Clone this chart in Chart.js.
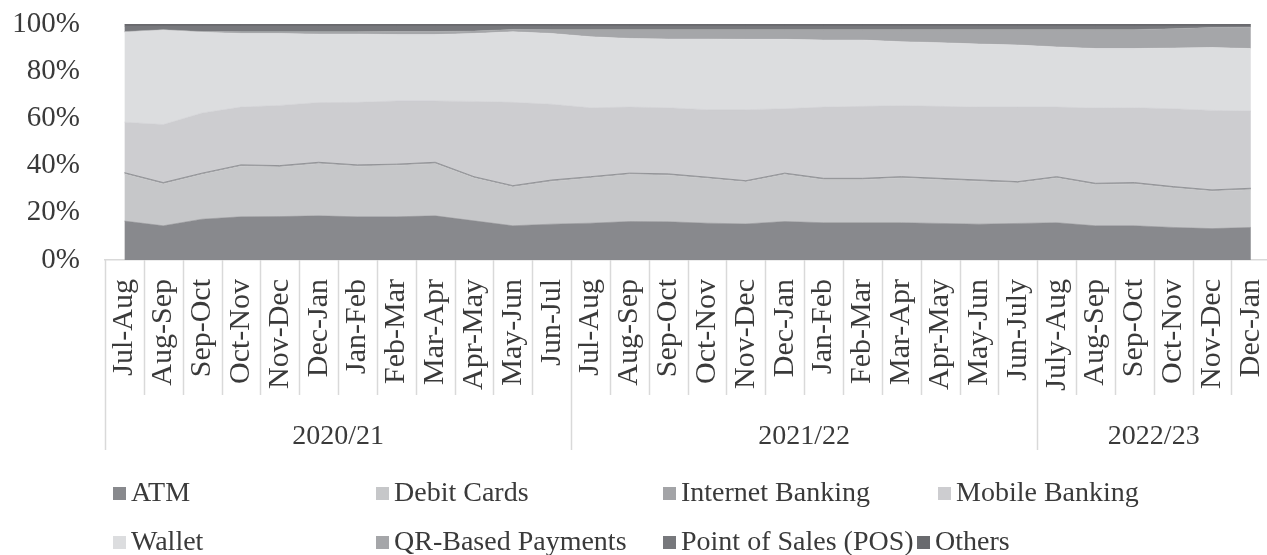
<!DOCTYPE html>
<html>
<head>
<meta charset="utf-8">
<script src="https://cdn.jsdelivr.net/npm/chart.js@4.4.1/dist/chart.umd.min.js"></script>
<style>
  html, body { margin: 0; padding: 0; overflow: hidden; background: #fff; }
  #wrap { position: relative; width: 1306px; height: 555px; }
  #legend { position: absolute; left: 0; top: 0; width: 100%; height: 100%; pointer-events: none;
    font-family: "Liberation Serif", "Times New Roman", serif; font-size: 28px; color: #3a3a3a; }
  .item { position: absolute; display: flex; align-items: center; white-space: nowrap; line-height: 36px; }
  .box { width: 13px; height: 13px; margin-right: 5px; margin-top: 3px; }
</style>
</head>
<body>
<div id="wrap">
  <canvas id="chart" width="1306" height="555"></canvas>
  <div id="legend"></div>
</div>
<script>
const categories = [
  'Jul-Aug', 'Aug-Sep', 'Sep-Oct', 'Oct-Nov', 'Nov-Dec', 'Dec-Jan', 'Jan-Feb', 'Feb-Mar', 'Mar-Apr', 'Apr-May', 'May-Jun', 'Jun-Jul',
  'Jul-Aug', 'Aug-Sep', 'Sep-Oct', 'Oct-Nov', 'Nov-Dec', 'Dec-Jan', 'Jan-Feb', 'Feb-Mar', 'Mar-Apr', 'Apr-May', 'May-Jun', 'Jun-July',
  'July-Aug', 'Aug-Sep', 'Sep-Oct', 'Oct-Nov', 'Nov-Dec', 'Dec-Jan'
];
const groupLabels = ['2020/21', '2021/22', '2022/23'];
const groupSizes = [12, 12, 6];

// shares in %
const atm = [16.5, 14.5, 17.3, 18.3, 18.4, 18.7, 18.3, 18.3, 18.7, 16.6, 14.5, 15.2, 15.6, 16.3, 16.2, 15.6, 15.3, 16.3, 15.8, 15.8, 15.8, 15.5, 15.2, 15.5, 15.8, 14.5, 14.5, 13.8, 13.3, 13.8];
const debitCards = [19.9, 17.7, 18.9, 21.4, 21.0, 22.1, 21.4, 21.7, 22.1, 18.1, 16.4, 18.1, 19.1, 19.9, 19.7, 18.9, 17.7, 19.9, 18.2, 18.2, 18.9, 18.5, 18.1, 17.1, 18.9, 17.4, 17.7, 16.7, 15.8, 16.0];
const internetBanking = [0.6, 0.6, 0.6, 0.6, 0.6, 0.6, 0.6, 0.6, 0.6, 0.6, 0.6, 0.6, 0.6, 0.6, 0.6, 0.6, 0.6, 0.6, 0.6, 0.6, 0.6, 0.6, 0.6, 0.6, 0.6, 0.6, 0.6, 0.6, 0.6, 0.6];
const mobileBanking = [21.4, 24.6, 25.5, 24.5, 25.5, 25.3, 26.5, 26.8, 26.0, 31.9, 35.3, 32.1, 29.2, 28.0, 28.0, 28.6, 30.1, 27.3, 30.2, 30.5, 30.1, 30.5, 30.9, 31.6, 29.5, 31.9, 31.7, 33.0, 33.7, 32.7];
const wallet = [38.1, 40.0, 34.2, 31.2, 30.5, 29.0, 28.9, 28.1, 28.1, 28.8, 29.9, 30.0, 30.1, 29.1, 29.1, 29.9, 29.8, 29.4, 28.4, 28.1, 27.1, 27.0, 26.7, 26.3, 25.5, 25.2, 25.1, 25.7, 26.6, 26.5];
const qrPayments = [0.3, 0.2, 0.3, 0.7, 0.7, 1.0, 1.0, 1.3, 1.3, 1.0, 1.0, 1.6, 3.0, 3.7, 4.0, 4.0, 4.1, 4.1, 4.4, 4.4, 5.1, 5.5, 6.1, 6.5, 7.3, 8.0, 8.0, 8.2, 8.5, 9.0];
const pos = [2.3, 1.5, 2.3, 2.4, 2.4, 2.4, 2.4, 2.3, 2.3, 2.1, 1.4, 1.5, 1.5, 1.5, 1.5, 1.5, 1.5, 1.5, 1.5, 1.5, 1.5, 1.5, 1.5, 1.5, 1.5, 1.5, 1.5, 1.1, 0.6, 0.5];
const others = [0.9, 0.9, 0.9, 0.9, 0.9, 0.9, 0.9, 0.9, 0.9, 0.9, 0.9, 0.9, 0.9, 0.9, 0.9, 0.9, 0.9, 0.9, 0.9, 0.9, 0.9, 0.9, 0.9, 0.9, 0.9, 0.9, 0.9, 0.9, 0.9, 0.9];

const seriesNames = ['ATM', 'Debit Cards', 'Internet Banking', 'Mobile Banking', 'Wallet', 'QR-Based Payments', 'Point of Sales (POS)', 'Others'];
const seriesData = [atm, debitCards, internetBanking, mobileBanking, wallet, qrPayments, pos, others];
const seriesColors = ['#88898d', '#c6c7c9', '#a3a4a7', '#cdcdd0', '#dcdddf', '#a5a6a9', '#77787c', '#696a6e'];

const FONT = '"Liberation Serif", "Times New Roman", serif';
const TEXT = '#3a3a3a';
const DIVIDER = '#d9d9d9';

// legend item slots (left, top), same spots as the source
const legendPos = [[113, 474], [376, 474], [663, 474], [938, 474], [113, 523], [376, 523], [663, 523], [917, 523]];

// month dividers + year groups under the x axis
const groupAxis = {
  id: 'groupAxis',
  afterDraw(chart) {
    const ctx = chart.ctx;
    const x = chart.scales.x;
    const top = chart.chartArea.bottom;
    const edge = i => {
      if (i <= 0) return x.left;
      if (i >= categories.length) return x.right;
      return (x.getPixelForValue(i - 1) + x.getPixelForValue(i)) / 2;
    };
    ctx.save();
    ctx.strokeStyle = DIVIDER;
    ctx.lineWidth = 1.5;
    const groupEdges = [0];
    groupSizes.forEach(n => groupEdges.push(groupEdges[groupEdges.length - 1] + n));
    for (let i = 0; i <= categories.length; i++) {
      const px = Math.round(edge(i)) + 0.5;
      const bottom = groupEdges.includes(i) ? 450 : 395;
      ctx.beginPath();
      ctx.moveTo(px, top);
      ctx.lineTo(px, bottom);
      ctx.stroke();
    }
    ctx.fillStyle = TEXT;
    ctx.font = '28px ' + FONT;
    ctx.textAlign = 'center';
    ctx.textBaseline = 'middle';
    groupLabels.forEach((label, g) => {
      const cx = (edge(groupEdges[g]) + edge(groupEdges[g + 1])) / 2;
      ctx.fillText(label, cx, 437);
    });
    ctx.restore();
  }
};

const chart = new Chart(document.getElementById('chart'), {
  type: 'line',
  data: {
    labels: categories,
    datasets: seriesNames.map((name, i) => ({
      label: name,
      data: seriesData[i],
      backgroundColor: seriesColors[i],
      borderColor: i === 2 ? '#929397' : seriesColors[i],
      borderWidth: i === 2 ? 1 : 0.5,
      fill: i === 0 ? 'origin' : '-1',
      pointRadius: 0,
      tension: 0,
    })),
  },
  options: {
    responsive: false,
    animation: false,
    layout: { padding: { top: 24, right: 8, bottom: 85, left: 0 } },
    plugins: {
      legend: { display: false },
      tooltip: { enabled: false },
    },
    scales: {
      x: {
        offset: true,
        grid: { display: false, drawTicks: false },
        border: { display: true, color: DIVIDER, width: 1.5 },
        ticks: {
          autoSkip: false, minRotation: 90, maxRotation: 90, padding: 19,
          color: TEXT, font: { family: FONT, size: 30 },
        },
        afterFit(scale) { scale.height = 210; },
      },
      y: {
        stacked: true,
        min: 0,
        max: 100,
        grid: { display: false, drawTicks: false },
        border: { display: false },
        ticks: {
          stepSize: 20, padding: 25,
          color: TEXT, font: { family: FONT, size: 29 },
          callback: v => v + '%',
        },
        afterFit(scale) {
          scale.width = 105;
          // tick padding would otherwise push the plot down
          scale.paddingTop = 0;
          scale.paddingBottom = 0;
        },
      },
    },
  },
  plugins: [groupAxis],
});

const legendEl = document.getElementById('legend');
chart.data.datasets.forEach((ds, i) => {
  const item = document.createElement('div');
  item.className = 'item';
  item.style.left = legendPos[i][0] + 'px';
  item.style.top = legendPos[i][1] + 'px';
  const box = document.createElement('span');
  box.className = 'box';
  box.style.background = ds.backgroundColor;
  item.appendChild(box);
  item.appendChild(document.createTextNode(ds.label));
  legendEl.appendChild(item);
});
</script>
</body>
</html>
